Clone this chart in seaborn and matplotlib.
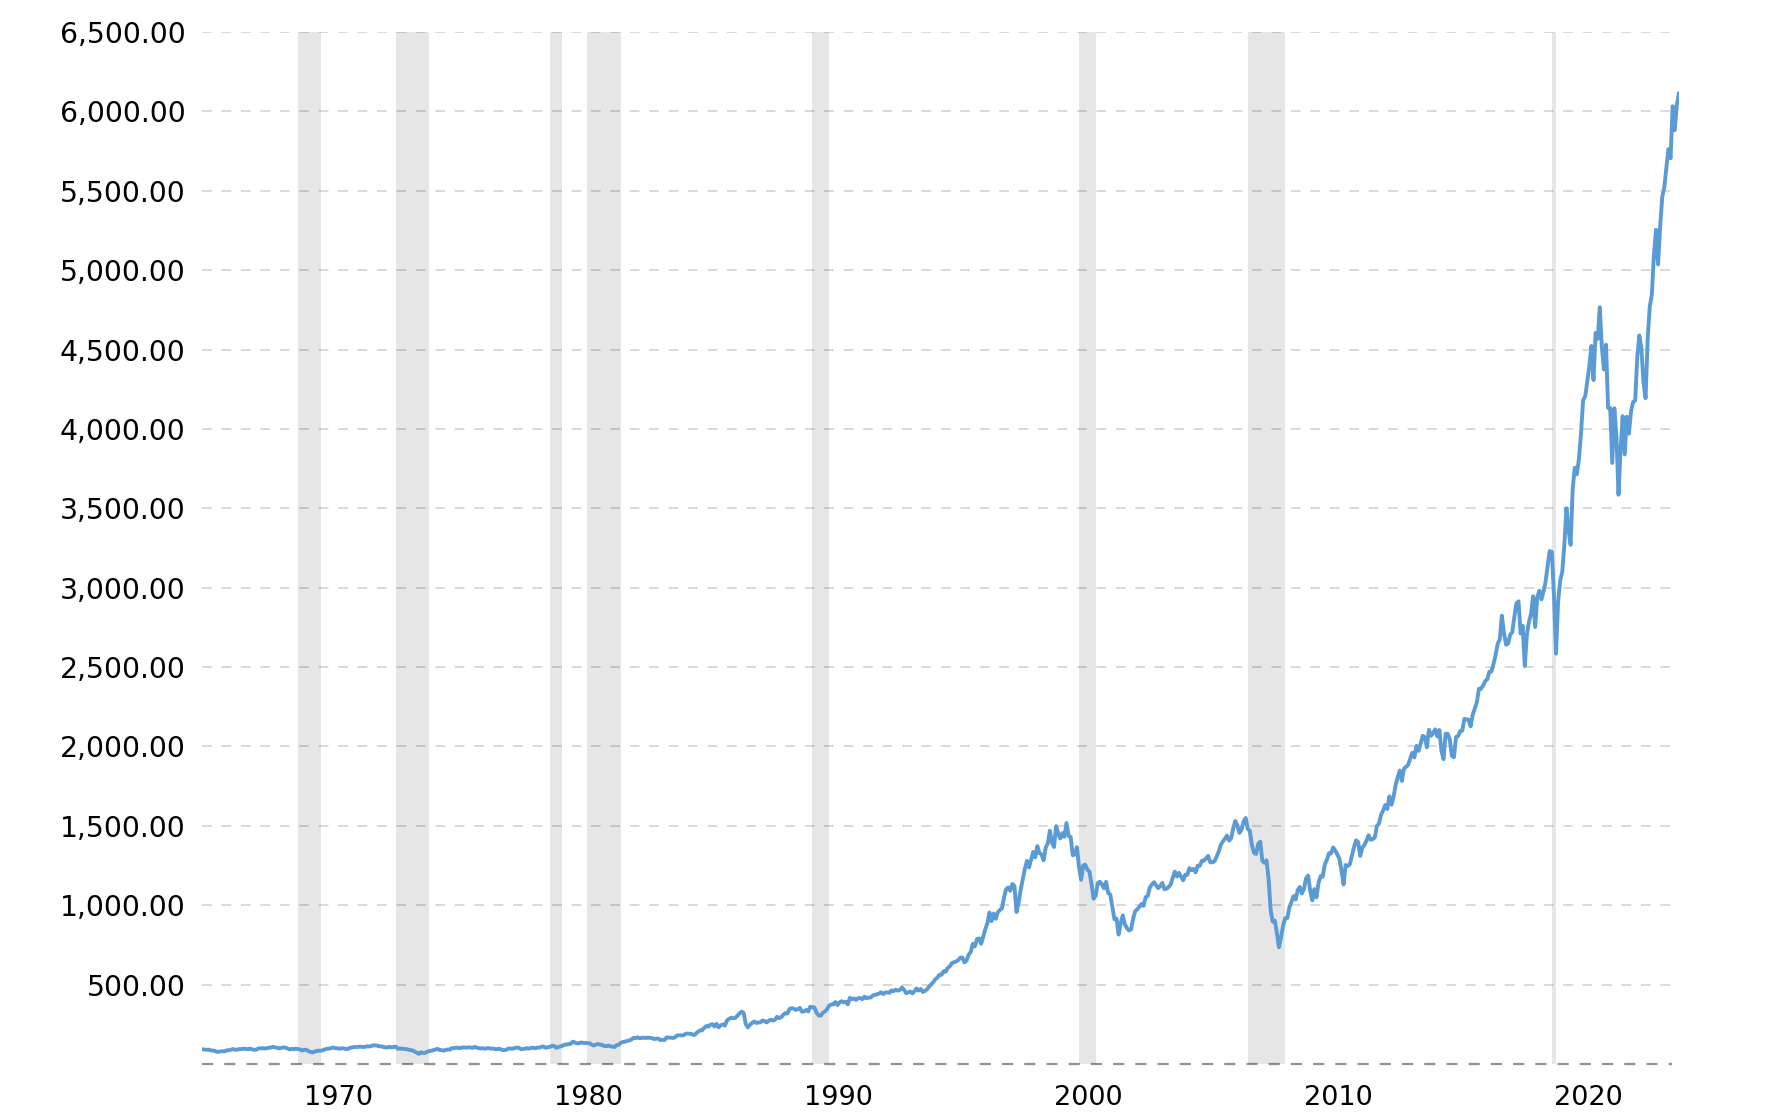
import pandas as pd
import seaborn as sns
import matplotlib.pyplot as plt
import matplotlib.transforms as mtransforms
from matplotlib.ticker import FuncFormatter

# S&P 500 month-end closes, Jan 1966 .. Feb 2025 (last month partial)
closes_1966_1975 = [
    92.88, 91.22, 89.23, 91.06, 86.13, 84.74, 83.60, 77.10, 76.56, 80.20, 80.45, 80.33,
    86.61, 86.78, 90.20, 94.01, 89.08, 90.64, 94.75, 93.64, 96.71, 93.90, 94.00, 96.47,
    92.24, 89.36, 90.20, 97.59, 98.68, 99.58, 97.74, 98.86, 102.67, 103.41, 108.37, 103.86,
    103.01, 98.13, 101.51, 103.69, 103.46, 97.71, 91.83, 95.51, 93.12, 97.24, 93.81, 92.06,
    85.02, 89.50, 89.63, 81.52, 76.55, 72.72, 78.05, 81.52, 84.21, 83.25, 87.20, 92.15,
    95.88, 96.75, 100.31, 103.95, 99.63, 99.70, 95.58, 99.03, 98.34, 94.23, 93.99, 102.09,
    103.94, 106.57, 107.20, 107.67, 109.53, 107.14, 107.39, 111.09, 110.55, 111.58, 116.67, 118.05,
    116.03, 111.68, 111.52, 106.97, 104.95, 104.26, 108.22, 104.25, 108.43, 108.29, 95.96, 97.55,
    96.57, 96.22, 93.98, 90.31, 87.28, 86.00, 79.31, 72.15, 63.54, 73.90, 69.97, 68.56,
    76.98, 81.59, 83.36, 87.30, 91.15, 95.19, 88.75, 86.88, 83.87, 89.04, 91.24, 90.19,
]
closes_1976_1985 = [
    100.86, 99.71, 102.77, 101.64, 100.18, 104.28, 103.44, 102.91, 105.24, 102.90, 102.10, 107.46,
    102.03, 99.82, 98.42, 98.44, 96.12, 100.48, 98.85, 96.77, 96.53, 92.34, 94.83, 95.10,
    89.25, 87.04, 89.21, 96.83, 97.24, 95.53, 100.68, 103.29, 102.54, 93.15, 94.70, 96.11,
    99.93, 96.28, 101.59, 101.76, 99.08, 102.91, 103.81, 109.32, 109.32, 101.82, 106.16, 107.94,
    114.16, 113.66, 102.09, 106.29, 111.24, 114.24, 121.67, 122.38, 125.46, 127.47, 140.52, 135.76,
    129.55, 131.27, 136.00, 132.81, 132.59, 131.21, 130.92, 122.79, 116.18, 121.89, 126.35, 122.55,
    120.40, 113.11, 111.96, 116.44, 111.88, 109.61, 107.09, 119.51, 120.42, 133.71, 138.54, 140.64,
    145.30, 148.06, 152.96, 164.42, 162.39, 168.11, 162.56, 164.40, 166.07, 163.55, 166.40, 164.93,
    163.41, 157.06, 159.18, 160.05, 150.55, 153.18, 150.66, 166.68, 166.10, 166.09, 163.58, 167.24,
    179.63, 181.18, 180.66, 179.83, 189.55, 191.85, 190.92, 188.63, 182.08, 189.82, 202.17, 211.28,
]
closes_1986_1995 = [
    211.78, 226.92, 238.90, 235.52, 247.35, 250.84, 236.12, 252.93, 231.32, 243.98, 249.22, 242.17,
    274.08, 284.20, 291.70, 288.36, 290.10, 304.00, 318.66, 329.80, 321.83, 251.79, 230.30, 247.08,
    257.07, 267.82, 258.89, 261.33, 262.16, 273.50, 272.02, 261.52, 271.91, 278.97, 273.70, 277.72,
    297.47, 288.86, 294.87, 309.64, 320.52, 317.98, 346.08, 351.45, 349.15, 340.36, 345.99, 353.40,
    329.08, 331.89, 339.94, 330.80, 361.23, 358.02, 356.15, 322.56, 306.05, 304.00, 322.22, 330.22,
    343.93, 367.07, 375.22, 375.34, 389.83, 371.16, 387.81, 395.43, 387.86, 392.46, 375.22, 417.09,
    408.79, 412.70, 403.69, 414.95, 415.35, 408.14, 424.21, 414.03, 417.80, 418.68, 431.35, 435.71,
    438.78, 443.38, 451.67, 440.19, 450.19, 450.53, 448.13, 463.56, 458.93, 467.83, 461.79, 466.45,
    481.61, 467.14, 445.77, 450.91, 456.50, 444.27, 458.26, 475.49, 462.69, 472.35, 453.69, 459.27,
    470.42, 487.39, 500.71, 514.71, 533.40, 544.75, 562.06, 561.88, 584.41, 581.50, 605.37, 615.93,
]
closes_1996_2005 = [
    636.02, 640.43, 645.50, 654.17, 669.12, 670.63, 639.95, 651.99, 687.33, 705.27, 757.02, 740.74,
    786.16, 790.82, 757.12, 801.34, 848.28, 885.14, 954.31, 899.47, 947.28, 914.62, 955.40, 970.43,
    980.28, 1049.34, 1101.75, 1111.75, 1090.82, 1133.84, 1120.67, 957.28, 1017.01, 1098.67, 1163.63, 1229.23,
    1279.64, 1238.33, 1286.37, 1335.18, 1301.84, 1372.71, 1328.72, 1320.41, 1282.71, 1362.93, 1388.91, 1469.25,
    1394.46, 1366.42, 1498.58, 1452.43, 1420.60, 1454.60, 1430.83, 1517.68, 1436.51, 1429.40, 1314.95, 1320.28,
    1366.01, 1239.94, 1160.33, 1249.46, 1255.82, 1224.42, 1211.23, 1133.58, 1040.94, 1059.78, 1139.45, 1148.08,
    1130.20, 1106.73, 1147.39, 1076.92, 1067.14, 989.82, 911.62, 916.07, 815.28, 885.76, 936.31, 879.82,
    855.70, 841.15, 848.18, 916.92, 963.59, 974.50, 990.31, 1008.01, 995.97, 1050.71, 1058.20, 1111.92,
    1131.13, 1144.94, 1126.21, 1107.30, 1120.68, 1140.84, 1101.72, 1104.24, 1114.58, 1130.20, 1173.82, 1211.92,
    1181.27, 1203.60, 1180.59, 1156.85, 1191.50, 1191.33, 1234.18, 1220.33, 1228.81, 1207.01, 1249.48, 1248.29,
]
closes_2006_2015 = [
    1280.08, 1280.66, 1294.87, 1310.61, 1270.09, 1270.20, 1276.66, 1303.82, 1335.85, 1377.94, 1400.63, 1418.30,
    1438.24, 1406.82, 1420.86, 1482.37, 1530.62, 1503.35, 1455.27, 1473.99, 1526.75, 1549.38, 1481.14, 1468.36,
    1378.55, 1330.63, 1322.70, 1385.59, 1400.38, 1280.00, 1267.38, 1282.83, 1166.36, 968.75, 896.24, 903.25,
    825.88, 735.09, 797.87, 872.81, 919.14, 919.32, 987.48, 1020.62, 1057.08, 1036.19, 1095.63, 1115.10,
    1073.87, 1104.49, 1169.43, 1186.69, 1089.41, 1030.71, 1101.60, 1049.33, 1141.20, 1183.26, 1180.55, 1257.64,
    1286.12, 1327.22, 1325.83, 1363.61, 1345.20, 1320.64, 1292.28, 1218.89, 1131.42, 1253.30, 1246.96, 1257.60,
    1312.41, 1365.68, 1408.47, 1397.91, 1310.33, 1362.16, 1379.32, 1406.58, 1440.67, 1412.16, 1416.18, 1426.19,
    1498.11, 1514.68, 1569.19, 1597.57, 1630.74, 1606.28, 1685.73, 1632.97, 1681.55, 1756.54, 1805.81, 1848.36,
    1782.59, 1859.45, 1872.34, 1883.95, 1923.57, 1960.23, 1930.67, 2003.37, 1972.29, 2018.05, 2067.56, 2058.90,
    1994.99, 2104.50, 2067.89, 2085.51, 2107.39, 2063.11, 2103.84, 1972.18, 1920.03, 2079.36, 2080.41, 2043.94,
]
closes_2016_2025 = [
    1940.24, 1932.23, 2059.74, 2065.30, 2096.95, 2098.86, 2173.60, 2170.95, 2168.27, 2126.15, 2198.81, 2238.83,
    2278.87, 2363.64, 2362.72, 2384.20, 2411.80, 2423.41, 2470.30, 2471.65, 2519.36, 2575.26, 2647.58, 2673.61,
    2823.81, 2713.83, 2640.87, 2648.05, 2705.27, 2718.37, 2816.29, 2901.52, 2913.98, 2711.74, 2760.17, 2506.85,
    2704.10, 2784.49, 2834.40, 2945.83, 2752.06, 2941.76, 2980.38, 2926.46, 2976.74, 3037.56, 3140.98, 3230.78,
    3225.52, 2954.22, 2584.59, 2912.43, 3044.31, 3100.29, 3271.12, 3500.31, 3363.00, 3269.96, 3621.63, 3756.07,
    3714.24, 3811.15, 3972.89, 4181.17, 4204.11, 4297.50, 4395.26, 4522.68, 4307.54, 4605.38, 4567.00, 4766.18,
    4515.55, 4373.94, 4530.41, 4131.93, 4132.15, 3785.38, 4130.29, 3955.00, 3585.62, 3871.98, 4080.11, 3839.50,
    4076.60, 3970.15, 4109.31, 4169.48, 4179.83, 4450.38, 4588.96, 4507.66, 4288.05, 4193.80, 4567.80, 4769.83,
    4845.65, 5096.27, 5254.35, 5035.69, 5277.51, 5460.48, 5522.30, 5648.40, 5762.48, 5705.45, 6032.38, 5881.63,
    6040.53, 6114.00,
]

# recessions as (start year, month, end year, month)
recessions = [
    (1969, 12, 1970, 11), (1973, 11, 1975, 3), (1980, 1, 1980, 7), (1981, 7, 1982, 11),
    (1990, 7, 1991, 3), (2001, 3, 2001, 11), (2007, 12, 2009, 6), (2020, 2, 2020, 4),
]
year_ticks = [1970, 1980, 1990, 2000, 2010, 2020]
value_ticks = list(range(500, 7000, 500))

closes = (closes_1966_1975 + closes_1976_1985 + closes_1986_1995
          + closes_1996_2005 + closes_2006_2015 + closes_2016_2025)
dates = pd.date_range('1966-01-31', periods=len(closes), freq='ME')
df = pd.DataFrame({'year': dates.year + dates.month / 12, 'close': closes})

sns.set_style('white')
plt.rcParams['font.family'] = ['DejaVu Sans']

fig = plt.figure(figsize=(17.76, 11.2), dpi=100)
ax = fig.add_axes([202 / 1776, 1 - 1064 / 1120, (1679 - 202) / 1776, (1064 - 32) / 1120])

x0, x1 = 1966.08, 2025.17
grid_end = 2024.88

# shaded recessions
for y0, m0, y1, m1 in recessions:
    ax.axvspan(y0 + (m0 - 1) / 12, y1 + (m1 - 1) / 12, color='#e6e6e6', lw=0, zorder=0)

# dashed grid, stops a little short of the line end
ax.hlines(value_ticks, x0, grid_end, colors='black', alpha=0.15,
          linestyles=(0, (5, 5)), lw=1.4, zorder=1)
ax.hlines([0], x0, grid_end, colors='black', alpha=0.42,
          linestyles=(0, (5, 5)), lw=1.6, zorder=1, clip_on=False)

sns.lineplot(data=df, x='year', y='close', color='#5b9bd5', lw=2.8, ax=ax, zorder=3)

ax.set_xlim(x0, x1)
ax.set_ylim(0, 6500)
ax.set_xlabel('')
ax.set_ylabel('')
for s in ax.spines.values():
    s.set_visible(False)

ax.set_yticks(value_ticks)
ax.yaxis.set_major_formatter(FuncFormatter(lambda v, p: f'{v:,.2f}'))
ax.tick_params(axis='y', length=0, pad=12, labelsize=20.3, labelcolor='black')

ax.set_xticks(year_ticks)
ax.set_xticklabels([str(y) for y in year_ticks])
ax.tick_params(axis='x', length=0, pad=15, labelsize=19.5, labelcolor='black')
shift = mtransforms.ScaledTranslation(4 / 100, 0, fig.dpi_scale_trans)
for lbl in ax.get_xticklabels():
    lbl.set_horizontalalignment('left')
    lbl.set_transform(lbl.get_transform() + shift)

fig.savefig('out.png', dpi=100)
